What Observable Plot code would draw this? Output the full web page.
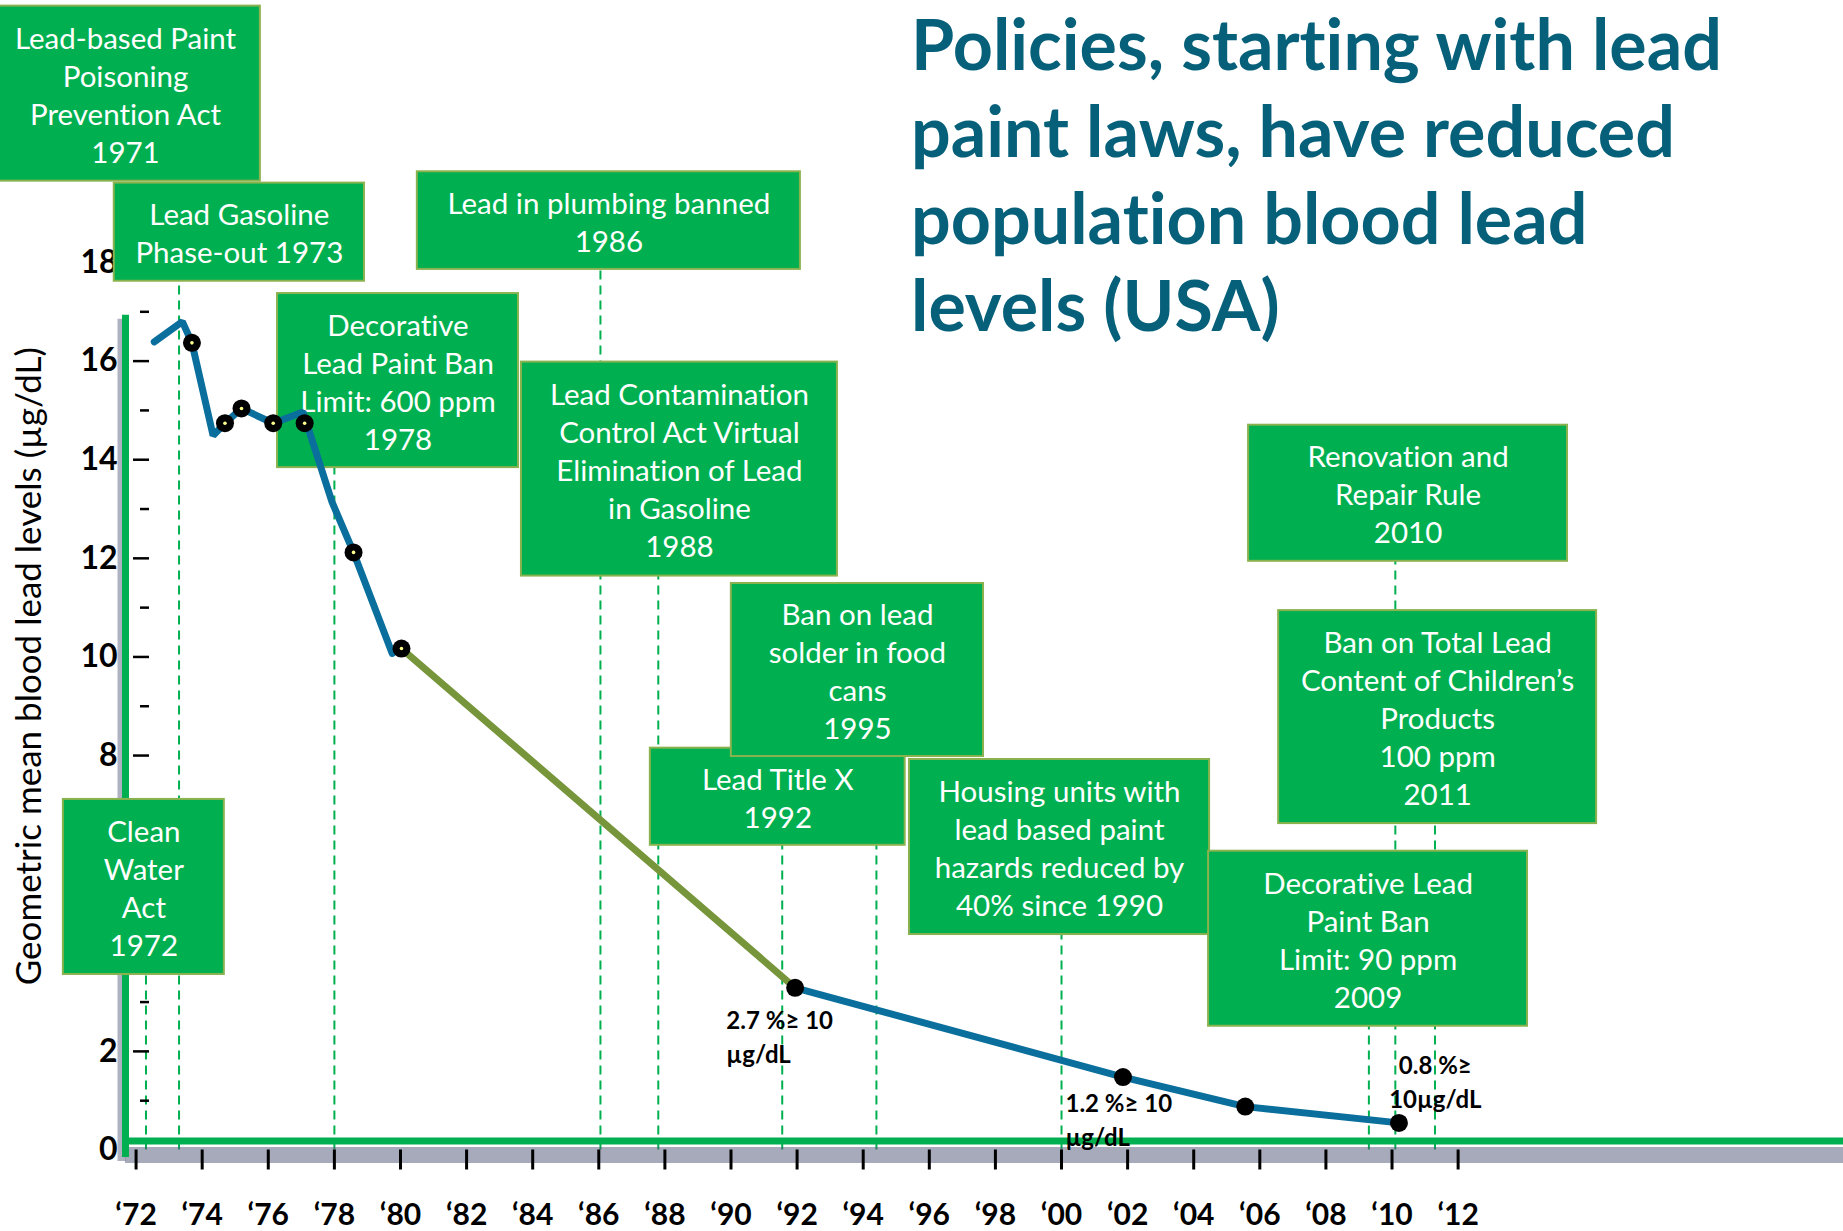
<!DOCTYPE html>
<html>
<head>
<meta charset="utf-8">
<script src="https://cdn.jsdelivr.net/npm/d3@7"></script>
<script src="https://cdn.jsdelivr.net/npm/@observablehq/plot@0.6"></script>
<style>
  body { margin: 0; background: #fff; }
  #wrap { position: relative; width: 1843px; height: 1231px; overflow: hidden; background: #fff; }
  #title {
    position: absolute; left: 911px; top: 0px;
    font-family: Lato, "Open Sans", sans-serif; font-weight: 700; font-size: 70px; line-height: 87px;
    color: #07607A; white-space: nowrap; font-variant-ligatures: none; font-feature-settings: "liga" 0, "clig" 0;
  }
  svg text { font-variant-ligatures: none; }
</style>
</head>
<body>
<div id="wrap">
  <div id="chart"></div>
  <div id="title">Policies, starting with lead<br>paint laws, have reduced<br>population blood lead<br>levels (USA)</div>
</div>
<script>
// ---------------- data ----------------
// blood lead trend line vertices (year, µg/dL) and segment id
const trendYear = [1972.55, 1973.40, 1973.69, 1974.33, 1974.69, 1975.19, 1976.15, 1977.05, 1977.93, 1978.58, 1979.75,
                   1980.03, 1991.94,
                   1991.94, 2001.86, 2005.56, 2010.21];
const trendValue = [16.39, 16.80, 16.37, 14.49, 14.74, 15.04, 14.74, 14.97, 13.14, 12.12, 10.07,
                    10.17, 3.29,
                    3.29, 1.48, 0.88, 0.55];
const trendSegment = ["early","early","early","early","early","early","early","early","early","early","early",
                      "gap","gap",
                      "late","late","late","late"];

// survey points
const dotYear  = [1973.69, 1974.69, 1975.19, 1976.15, 1977.10, 1978.58, 1980.03, 1991.94, 2001.86, 2005.56, 2010.21];
const dotValue = [16.37, 14.74, 15.04, 14.74, 14.74, 12.12, 10.17, 3.29, 1.48, 0.88, 0.55];
const dotMarked = [true, true, true, true, true, true, true, false, false, false, false];

// policies (label text, year of the dashed marker line; null = no line)
const policyLabels = [
  "Lead-based Paint\nPoisoning\nPrevention Act\n1971",
  "Lead Gasoline\nPhase-out 1973",
  "Decorative\nLead Paint Ban\nLimit: 600 ppm\n1978",
  "Lead in plumbing banned\n1986",
  "Lead Contamination\nControl Act Virtual\nElimination of Lead\nin Gasoline\n1988",
  "Lead Title X\n1992",
  "Ban on lead\nsolder in food\ncans\n1995",
  "Housing units with\nlead based paint\nhazards reduced by\n40% since 1990",
  "Renovation and\nRepair Rule\n2010",
  "Ban on Total Lead\nContent of Children’s\nProducts\n100 ppm\n2011",
  "Decorative Lead\nPaint Ban\nLimit: 90 ppm\n2009",
  "Clean\nWater\nAct\n1972"
];
const policyYears = [null, 1973.3, 1978.0, 1986.05, 1987.8, 1991.55, 1994.4, 2000.0, 2010.1, 2011.3, 2009.3, 1972.3];

// annotation notes (share of children ≥ 10 µg/dL)
const noteLabels = ["2.7 %≥ 10\nµg/dL", "1.2 %≥ 10\nµg/dL", "0.8 %≥\n10µg/dL"];

// axis ticks (4 and 6 are hidden behind the Clean Water Act box in the original)
const xTickYears = d3.range(1972, 2013, 2);
const yLabelValues = [0, 2, 8, 10, 12, 14, 16, 18];
const yMajorTicks = [2, 8, 10, 12, 14, 16];
const yMinorTicks = [1, 3, 9, 11, 13, 15, 17];
const yAxisTitle = "Geometric mean blood lead levels (µg/dL)";

// ---------------- layout (placement of annotation boxes, in data units) ----------------
const boxLayout = [
  {x1: 1967.6, x2: 1975.76, y1: 19.65, y2: 23.20},
  {x1: 1971.34, x2: 1978.91, y1: 17.62, y2: 19.61},
  {x1: 1976.28, x2: 1983.57, y1: 13.84, y2: 17.37},
  {x1: 1980.51, x2: 1992.10, y1: 17.86, y2: 19.84},
  {x1: 1983.66, x2: 1993.22, y1: 11.64, y2: 15.98},
  {x1: 1987.56, x2: 1995.27, y1: 6.18, y2: 8.15},
  {x1: 1990.01, x2: 1997.64, y1: 7.98, y2: 11.49},
  {x1: 1995.40, x2: 2004.48, y1: 4.37, y2: 7.92},
  {x1: 2005.66, x2: 2015.31, y1: 11.94, y2: 14.70},
  {x1: 2006.57, x2: 2016.19, y1: 6.62, y2: 10.94},
  {x1: 2004.45, x2: 2014.10, y1: 2.51, y2: 6.06},
  {x1: 1969.80, x2: 1974.67, y1: 3.56, y2: 7.11}
];
const noteLayout = [
  {x: 1989.86, y: 2.95, anchor: "start"},
  {x: 2000.12, y: 1.27, anchor: "start"},
  {x: 2011.31, y: 2.04, anchor: "middle"}
];

// ---------------- build ----------------
const green = "#00B050";
const blue = "#0A6F9C";
const olive = "#77953A";
const font = "Lato, 'Open Sans', sans-serif";

const trend = trendYear.map((year, i) => ({year, value: trendValue[i], seg: trendSegment[i]}));
const dots = dotYear.map((year, i) => ({year, value: dotValue[i], marked: dotMarked[i]}));
const boxes = policyLabels.map((label, i) => ({label, year: policyYears[i], ...boxLayout[i]}));
const notes = noteLabels.map((label, i) => ({label, ...noteLayout[i]}));
const segColor = {early: blue, gap: olive, late: blue};

const xDomain = [1971.68, 2023.66];

const marks = [
  // dashed policy marker lines
  Plot.ruleX(boxes.filter(d => d.year != null), {x: "year", y1: 0, y2: "y1", stroke: green, strokeWidth: 2, strokeDasharray: "9,6"}),
  // axis lines (baseline drawn slightly above zero, as in the original)
  Plot.ruleY([0], {stroke: "#4d5675", strokeOpacity: 0.5, strokeWidth: 16, dy: 5, ariaLabel: "shadow"}),
  Plot.ruleY([0], {stroke: green, strokeWidth: 7, dy: -9}),
  Plot.ruleX([xDomain[0]], {y1: -0.15, y2: 16.93, stroke: "#4d5675", strokeOpacity: 0.45, strokeWidth: 8, dx: -4, dy: 4, ariaLabel: "shadow"}),
  Plot.ruleX([xDomain[0]], {y1: -0.15, y2: 16.93, stroke: green, strokeWidth: 7}),
  // y axis labels and ticks
  Plot.axisY({ticks: yLabelValues, tickSize: 0, tickPadding: 8, fontSize: 32, fontWeight: "bold", label: null, fontFamily: font, fill: "black"}),
  Plot.axisY({ticks: yMajorTicks, tickSize: 16, dx: 24, tickFormat: () => "", label: null, strokeWidth: 2.5, stroke: "black"}),
  Plot.axisY({ticks: yMinorTicks, tickSize: 9, dx: 24, tickFormat: () => "", label: null, strokeWidth: 2.5, stroke: "black"}),
  // boxes
  ...boxes.flatMap(b => [
    Plot.rect([b], {x1: "x1", x2: "x2", y1: "y1", y2: "y2", fill: green, stroke: "#8AB24E", strokeWidth: 2}),
    Plot.text([b], {x: d => (d.x1 + d.x2) / 2, y: d => (d.y1 + d.y2) / 2, text: "label", fill: "white",
                    fontSize: 29.5, lineHeight: 1.29, fontFamily: font})
  ]),
  // trend shadows
  ...["early", "gap", "late"].map(s =>
    Plot.line(trend.filter(d => d.seg === s), {x: "year", y: "value", stroke: "#3e4a55", strokeOpacity: 0.5, strokeWidth: 9, dx: 3, dy: 6, ariaLabel: "shadow"})),
  // trend lines
  ...["early", "gap", "late"].map(s =>
    Plot.line(trend.filter(d => d.seg === s), {x: "year", y: "value", stroke: segColor[s], strokeWidth: 7, strokeLinejoin: "miter"})),
  // dots
  Plot.dot(dots, {x: "year", y: "value", r: 9, fill: "black"}),
  Plot.dot(dots.filter(d => d.marked), {x: "year", y: "value", r: 1.8, fill: "#FFFF8C"}),
  // notes
  ...notes.map(n => Plot.text([n], {x: "x", y: "y", text: "label", textAnchor: n.anchor, lineAnchor: "top",
      fontSize: 24, fontWeight: "bold", lineHeight: 1.42, fill: "black", fontFamily: font})),
  // x axis
  Plot.axisX({ticks: xTickYears, tickFormat: d => "‘" + String(d).slice(2), tickSize: 20, tickPadding: 34,
              fontSize: 30, fontWeight: "bold", label: null, strokeWidth: 3, stroke: "black", fill: "black", fontFamily: font}),
  // y axis title
  Plot.text([yAxisTitle], {text: d => d, frameAnchor: "left", textAnchor: "middle", rotate: -90, dx: -96, dy: -40,
                           fontSize: 35, fill: "black", fontFamily: font})
];

const chart = Plot.plot({
  width: 1843,
  height: 1231,
  marginLeft: 125,
  marginRight: 0,
  marginTop: 262,
  marginBottom: 81.5,
  x: {domain: xDomain},
  y: {domain: [0, 18]},
  style: {fontFamily: font, background: "white", overflow: "visible"},
  marks
});

// soft blur for the drop shadows
const NS = "http://www.w3.org/2000/svg";
const defs = document.createElementNS(NS, "defs");
const filter = document.createElementNS(NS, "filter");
filter.setAttribute("id", "softshadow");
filter.setAttribute("filterUnits", "userSpaceOnUse");
filter.setAttribute("x", "-50"); filter.setAttribute("y", "-50");
filter.setAttribute("width", "1950"); filter.setAttribute("height", "1350");
const blur = document.createElementNS(NS, "feGaussianBlur");
blur.setAttribute("stdDeviation", "4");
filter.appendChild(blur);
defs.appendChild(filter);
chart.insertBefore(defs, chart.firstChild);
chart.querySelectorAll('g[aria-label="shadow"]').forEach(g => g.setAttribute("filter", "url(#softshadow)"));

document.getElementById("chart").appendChild(chart);
</script>
</body>
</html>
